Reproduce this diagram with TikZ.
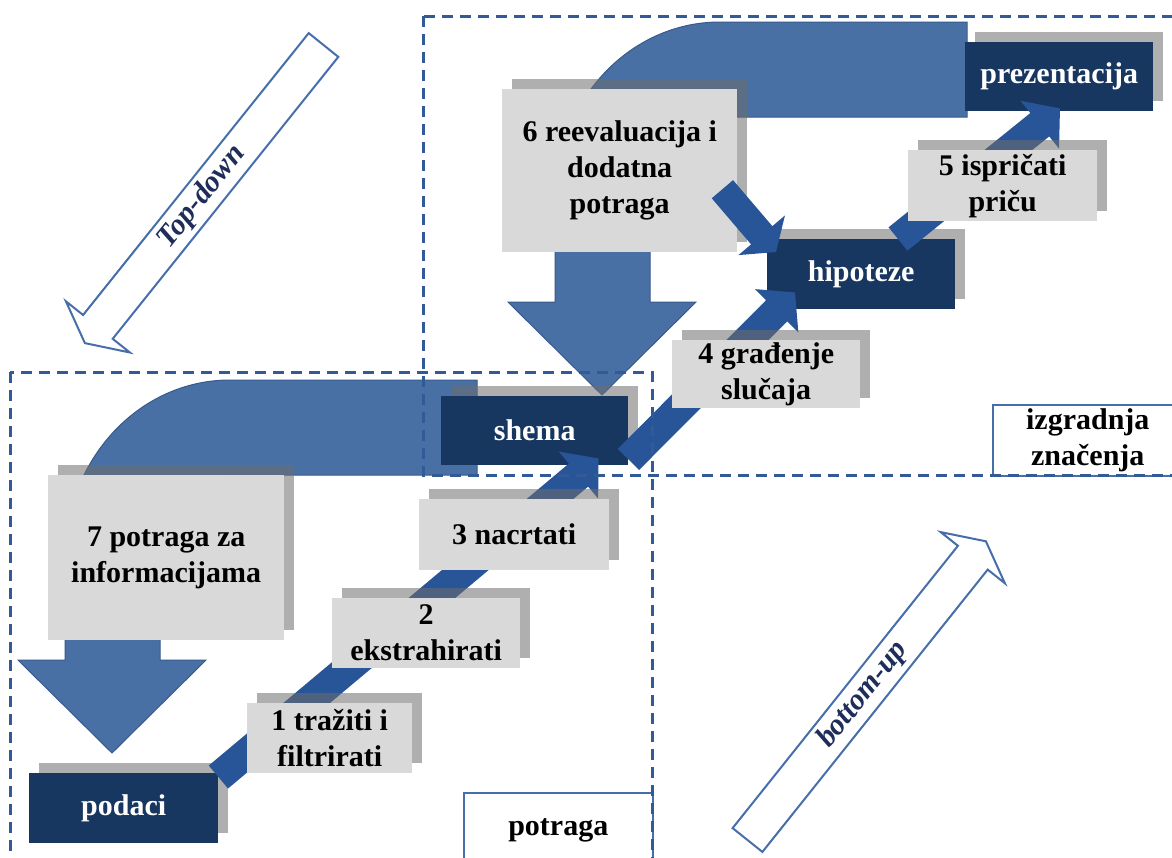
\documentclass[tikz,border=0pt]{standalone}
\usepackage{fontspec}
\setmainfont{Liberation Serif}
\usetikzlibrary{arrows.meta,shadows,calc}
\definecolor{navy}{RGB}{24,55,96}
\definecolor{bandc}{RGB}{72,112,165}
\definecolor{bandline}{RGB}{55,90,140}
\definecolor{chevc}{RGB}{40,84,152}
\definecolor{boxgrey}{RGB}{217,217,217}
\definecolor{shadowc}{RGB}{110,110,110}
\definecolor{dashc}{RGB}{50,90,150}
\definecolor{outlinec}{RGB}{70,110,170}
\definecolor{textnavy}{RGB}{30,45,90}
\begin{document}
\begin{tikzpicture}[x=1pt,y=-1pt,
  every node/.style={font=\fontsize{30}{36}\selectfont\bfseries, inner sep=0pt, align=center},
  bx/.style 2 args={minimum width=#1pt, minimum height=#2pt},
  sh/.style={general shadow={fill=shadowc, fill opacity=0.55, shadow xshift=10pt, shadow yshift=10pt}},
  darkbox/.style={sh, fill=navy, text=white, anchor=north west},
  greybox/.style={sh, fill=boxgrey, text=black, anchor=north west},
  chev/.style={draw=chevc, line width=30pt, -{Triangle[length=26pt,width=60pt]}},
  band/.style={fill=bandc, draw=bandline, line width=1pt},
  hollow/.style={draw=outlinec, line width=2pt, fill=white, line join=miter},
  dashbox/.style={draw=dashc, line width=3pt, dash pattern=on 11pt off 7pt},
  labelbox/.style={draw=outlinec, line width=1.5pt, fill=white, anchor=north west},
  slant/.style={text=textnavy, font=\fontsize{30}{36}\selectfont\bfseries\itshape, rotate=51.3}
]
\useasboundingbox (0,0) rectangle (1172,857);
\begin{scope}
\clip (0,0) rectangle (1172,857);
\fill[white] (0,0) rectangle (1172,857);

% U-turn bands
\foreach \sx/\sy in {0/0,-490/358}{
\begin{scope}[shift={(\sx,\sy)}]
\path[band] (555,302) -- (555,200) .. controls (555,101.7) and (628.9,22) .. (720,22)
  -- (967,22) -- (967,117) -- (720,117) .. controls (681.4,117) and (650,154.2) .. (650,200)
  -- (650,302) -- (696,302) -- (602,395) -- (508,302) -- cycle;
\end{scope}}

% dark boxes and big grey boxes
\node[darkbox, bx={188}{69}] (prez) at (965,42) {prezentacija};
\node[darkbox, bx={188}{70}] (hip) at (767,239) {hipoteze};
\node[darkbox, bx={187}{69}] (shema) at (441,396) {shema};
\node[darkbox, bx={189}{70}] (podaci) at (29,773) {podaci};
\node[greybox, bx={235}{163}] (b6) at (502,89) {6 reevaluacija i\\dodatna\\potraga};
\node[greybox, bx={236}{165}] (b7) at (48,475) {7 potraga za\\informacijama};

% step arrows
\draw[chev] ($(podaci.north east)+(0,4)$) -- ($(shema.south east)+(-30,-7)$);
\draw[chev] ($(shema.south east)+(0,-6)$) -- ($(hip.south west)+(28,-17)$);
\draw[chev] ($(hip.north west)+(131,0)$) -- ($(prez.south west)+(95,-3)$);
\draw[chev, line width=28pt, -{Triangle[length=22pt,width=60pt]}] ($(b6.east)+(-15,18.5)$) -- ($(hip.north west)+(9,13)$);

% step boxes
\node[greybox, bx={189}{71}] (b5) at (908,150) {5 ispričati\\priču};
\node[greybox, bx={188}{68}] (b4) at (672,340) {4 građenje\\slučaja};
\node[greybox, bx={190}{71}] (b3) at (419,499) {3 nacrtati};
\node[greybox, bx={188}{70}] (b2) at (332,598) {2\\ekstrahirati};
\node[greybox, bx={165}{70}] (b1) at (247,703) {1 tražiti i\\filtrirati};

% hollow direction arrows
\path[hollow] (308.7,33.1) -- (83.1,315.0) -- (65.9,301.3) -- (84.9,343.1) -- (129.9,352.5) -- (112.7,338.8) -- (338.3,56.9) -- cycle;
\node[slant] (td) at (202,197) {Top-down};
\path[hollow] (732.6,828.1) -- (957.9,545.8) -- (940.7,532.1) -- (985.9,541.3) -- (1004.9,583.3) -- (987.7,569.6) -- (762.4,851.9) -- cycle;
\node[slant] (bu) at (863,695) {bottom-up};

% label boxes
\node[labelbox, bx={190}{71}] (izg) at (992,404) {izgradnja\\značenja};
\node[labelbox, bx={189}{75}] (potr) at (463,792) {potraga};

% dashed regions
\draw[dashbox] (423,16) rectangle (1185,475);
\draw[dashbox] (10,372) rectangle (652,875);
\end{scope}
\end{tikzpicture}
\end{document}
